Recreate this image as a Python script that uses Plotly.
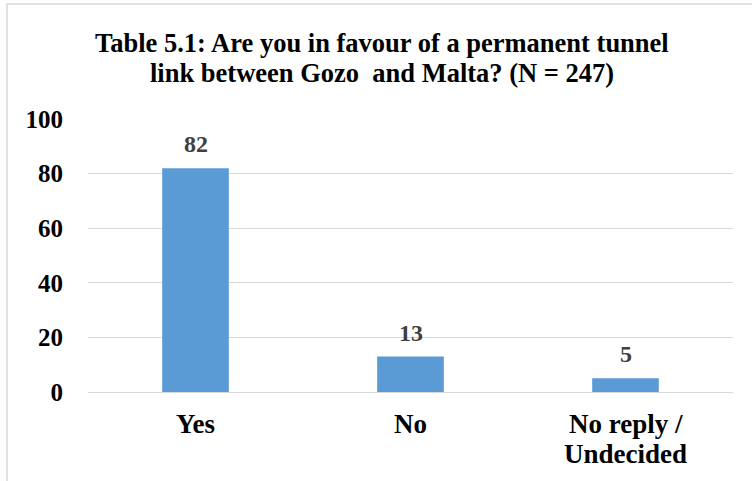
import plotly.graph_objects as go

categories = ["Yes", "No", "No reply /<br>Undecided"]
values = [82, 13, 5]
y_ticks = [0, 20, 40, 60, 80, 100]
title_lines = [
    "Table 5.1: Are you in favour of a permanent tunnel",
    "link between Gozo  and Malta? (N = 247)",
]

W, H = 752, 481
L, R, T, B = 88, 19, 119, 89
pw, ph = W - L - R, H - T - B

serif = "Liberation Serif, Times New Roman, serif"


def py(px_from_top):
    """Convert a pixel row (from top of page) to paper y."""
    return (T + ph - px_from_top) / ph


def px(px_from_left):
    return (px_from_left - L) / pw


fig = go.Figure(
    go.Bar(
        x=categories,
        y=values,
        marker=dict(color="#5B9BD5", line=dict(width=0)),
        width=0.31,
        hoverinfo="skip",
    )
)

# value labels above bars
for c, v in zip(categories, values):
    fig.add_annotation(
        x=c, y=v, text=str(v), showarrow=False,
        yanchor="bottom", yshift=9,
        font=dict(family=serif, size=24, color="#404040", weight="bold"),
    )

# category labels, one annotation per line for tight line spacing
for c in categories:
    for i, line in enumerate(c.split("<br>")):
        fig.add_annotation(
            x=c, xref="x", y=py(424 + 30 * i), yref="paper",
            text=line, showarrow=False, yanchor="middle",
            font=dict(family=serif, size=27, color="black", weight="bold"),
        )

# two-line title
for i, line in enumerate(title_lines):
    fig.add_annotation(
        x=px(382), xref="paper", y=py(43 + 30 * i), yref="paper",
        text=line, showarrow=False, yanchor="middle", xanchor="center",
        font=dict(family=serif, size=26.5, color="black", weight="bold"),
    )

# chart frame (light grey border)
fig.add_shape(
    type="rect", xref="paper", yref="paper",
    x0=px(7), x1=px(W + 5),
    y0=py(H + 5), y1=py(4),
    line=dict(color="#D9D9D9", width=1.5), fillcolor="rgba(0,0,0,0)",
    layer="below",
)

fig.update_layout(
    width=W, height=H,
    margin=dict(l=L, r=R, t=T, b=B),
    paper_bgcolor="white", plot_bgcolor="white",
    showlegend=False,
    xaxis=dict(
        showline=False, showgrid=False, zeroline=False, ticks="",
        showticklabels=False,
    ),
    yaxis=dict(
        range=[0, 100], tickvals=y_ticks,
        showgrid=True, gridcolor="#D9D9D9", gridwidth=1.2,
        zeroline=True, zerolinecolor="#D9D9D9", zerolinewidth=1.2,
        showline=False, ticks="",
        tickfont=dict(family=serif, size=25, color="black", weight="bold"),
        ticklabelstandoff=24,
    ),
    font=dict(family=serif),
)

fig.write_html("out.html")
